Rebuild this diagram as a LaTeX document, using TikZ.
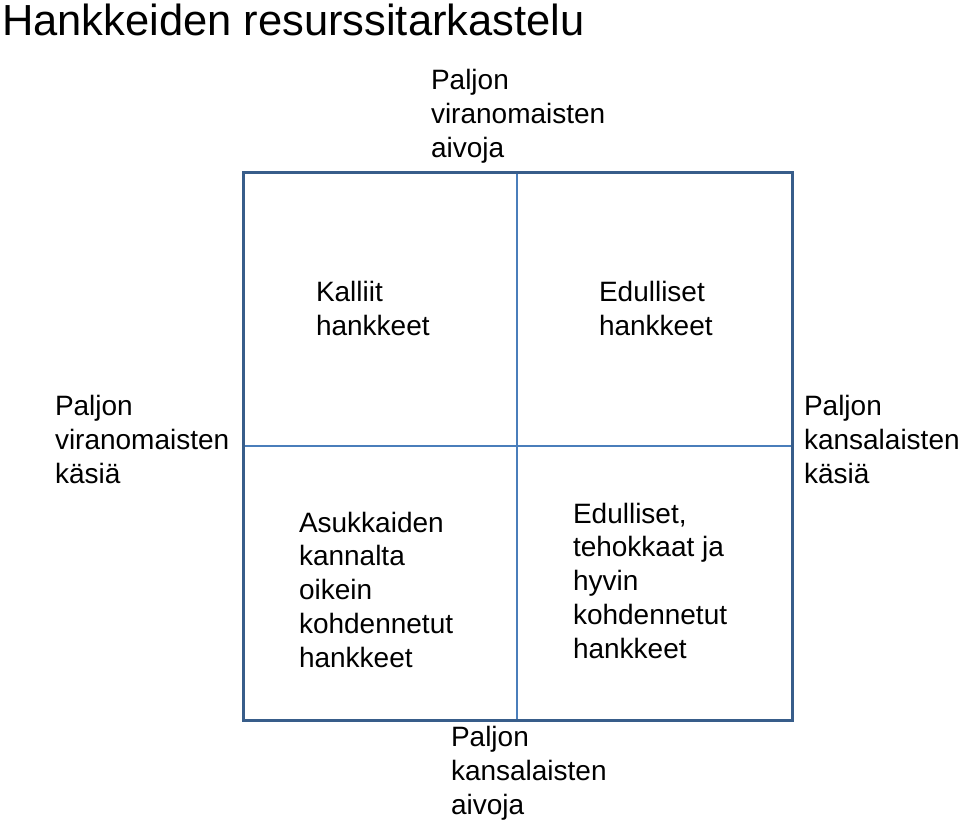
\documentclass[tikz,border=0pt]{standalone}
\usepackage{fontspec}
\setmainfont{Liberation Sans}
\definecolor{frame}{HTML}{385D8A}
\definecolor{inner}{HTML}{4A7EBB}
\begin{document}
\begin{tikzpicture}[x=1pt,y=-1pt,
  lbl/.style={anchor=base west,inner sep=0pt,outer sep=0pt,align=left,font=\fontsize{28}{33.7}\selectfont},
  ttl/.style={anchor=base west,inner sep=0pt,outer sep=0pt,font=\fontsize{43.5}{50}\selectfont}]
\useasboundingbox (0,0) rectangle (960,822);
\node[ttl] (title) at (2,35) {Hankkeiden resurssitarkastelu};
\coordinate (tl) at (243,172);
\coordinate (br) at (792,720);
\coordinate (vt) at (517,172);
\coordinate (vb) at (517,720);
\coordinate (hl) at (243,446);
\coordinate (hr) at (792,446);
\draw[inner,line width=1.1pt] (vt) -- (vb);
\draw[inner,line width=1.1pt] (hl) -- (hr);
\draw[frame,line width=3pt] (tl) rectangle (br);
\node[lbl] (top) at (431,157) {Paljon\\viranomaisten\\aivoja};
\node[lbl] (q1) at (316,335) {Kalliit\\hankkeet};
\node[lbl] (q2) at (599,335) {Edulliset\\hankkeet};
\node[lbl] (left) at (55,483) {Paljon\\viranomaisten\\käsiä};
\node[lbl] (right) at (804,483) {Paljon\\kansalaisten\\käsiä};
\node[lbl] (q3) at (299,667) {Asukkaiden\\kannalta\\oikein\\kohdennetut\\hankkeet};
\node[lbl] (q4) at (573,658) {Edulliset,\\tehokkaat ja\\hyvin\\kohdennetut\\hankkeet};
\node[lbl] (bottom) at (451,814) {Paljon\\kansalaisten\\aivoja};
\end{tikzpicture}
\end{document}
